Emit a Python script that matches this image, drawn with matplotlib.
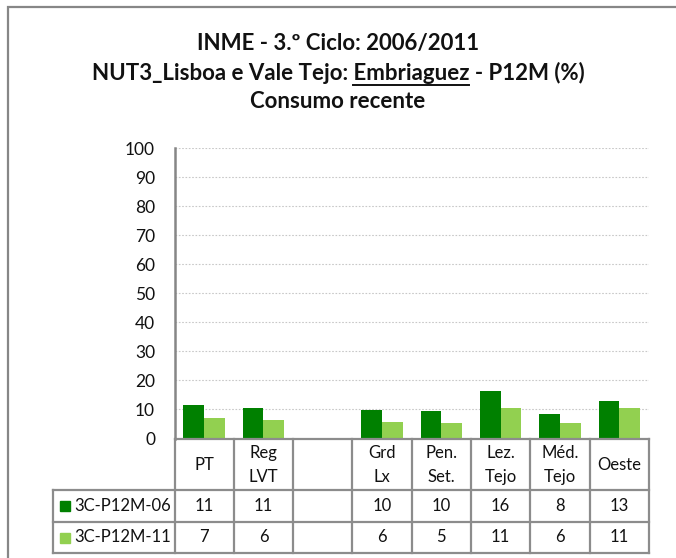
import matplotlib
matplotlib.use("Agg")
import matplotlib.pyplot as plt
from matplotlib.patches import Rectangle
import numpy as np

plt.rcParams['font.family'] = ['Lato', 'DejaVu Sans']

categories = ["PT", "Reg\nLVT", "", "Grd\nLx", "Pen.\nSet.", "Lez.\nTejo", "Méd.\nTejo", "Oeste"]
series_names = ["3C-P12M-06", "3C-P12M-11"]
vals_06 = [11.4, 10.5, np.nan, 9.9, 9.6, 16.2, 8.3, 12.9]
vals_11 = [6.9, 6.3, np.nan, 5.7, 5.3, 10.5, 5.5, 10.6]
table_06 = ["11", "11", "", "10", "10", "16", "8", "13"]
table_11 = ["7", "6", "", "6", "5", "11", "6", "11"]
yticks = list(range(0, 101, 10))
colors = ["#008000", "#92D050"]

W, H = 676, 558
fig = plt.figure(figsize=(W / 100, H / 100), dpi=100)

def fx(px):
    return px / W

def fy(py):
    return 1 - py / H

# outer border
fig.patches.append(Rectangle((fx(7.5), fy(600)), fx(700), fy(7) - fy(600),
                             transform=fig.transFigure, fill=False,
                             edgecolor="#878787", linewidth=1.6))

ax_l, ax_r, ax_t, ax_b = 174.5, 649, 148, 438.5
ax = fig.add_axes([fx(ax_l), fy(ax_b), fx(ax_r - ax_l), fy(ax_t) - fy(ax_b)])
n = len(categories)
x = np.arange(n)
bw = 0.35
ax.bar(x - bw / 2, vals_06, bw, color=colors[0], zorder=3)
ax.bar(x + bw / 2, vals_11, bw, color=colors[1], zorder=3)
ax.set_xlim(-0.5, n - 0.5)
ax.set_ylim(0, 100)
ax.set_yticks(yticks)
ax.set_xticks([])
ax.tick_params(axis='y', length=0, pad=14, labelsize=12.5, labelcolor="#111111")
for s in ["top", "right", "bottom"]:
    ax.spines[s].set_visible(False)
ax.spines["left"].set_color("#868686")
ax.spines["left"].set_linewidth(1.8)
ax.yaxis.grid(True, color="#c8c8c8", linestyle=(0, (1.5, 1.5)), linewidth=0.8, zorder=0)
ax.set_axisbelow(True)

# data table drawn in pixel coordinates
tax = fig.add_axes([0, 0, 1, 1], facecolor="none")
tax.set_xlim(0, W)
tax.set_ylim(H, 0)
tax.axis("off")
lc = "#8c8c8c"
lw = 1.6
leg_l = 52.5
row_y = [438.5, 490, 522, 553]
colw = (ax_r - ax_l) / n
col_x = [ax_l + i * colw for i in range(n + 1)]
# horizontal lines
tax.plot([ax_l, ax_r], [row_y[0], row_y[0]], color=lc, lw=lw)
for yy in row_y[1:]:
    tax.plot([leg_l, ax_r], [yy, yy], color=lc, lw=lw)
# vertical lines
for cx in col_x:
    tax.plot([cx, cx], [row_y[0], row_y[3]], color=lc, lw=lw)
tax.plot([leg_l, leg_l], [row_y[1], row_y[3]], color=lc, lw=lw)

fs = 12
for i, c in enumerate(categories):
    cx = col_x[i] + colw / 2
    tax.text(cx, (row_y[0] + row_y[1]) / 2 + 1, c, ha="center", va="center",
             fontsize=fs, linespacing=1.65, color="#111111")
    tax.text(cx, (row_y[1] + row_y[2]) / 2, table_06[i], ha="center", va="center",
             fontsize=fs, color="#111111")
    tax.text(cx, (row_y[2] + row_y[3]) / 2, table_11[i], ha="center", va="center",
             fontsize=fs, color="#111111")
for r, name in enumerate(series_names):
    yc = (row_y[r + 1] + row_y[r + 2]) / 2
    tax.add_patch(Rectangle((60, yc - 5), 10, 10, color=colors[r]))
    tax.text(74, yc, name, ha="left", va="center", fontsize=fs, color="#111111")

# title
tfs = 16
cx = 338
tax.text(cx, 50, "INME - 3.º Ciclo: 2006/2011", ha="center", va="baseline",
         fontsize=tfs, fontweight="bold", color="#111111")
line2 = "NUT3_Lisboa e Vale Tejo: Embriaguez - P12M (%)"
tax.text(cx, 80, line2, ha="center", va="baseline",
         fontsize=tfs, fontweight="bold", color="#111111")
tax.text(cx, 108, "Consumo recente", ha="center", va="baseline",
         fontsize=tfs, fontweight="bold", color="#111111")

fig.canvas.draw()
r = fig.canvas.get_renderer()
def width_px(s):
    t = tax.text(0, 0, s, fontsize=tfs, fontweight="bold")
    w = t.get_window_extent(renderer=r).width
    t.remove()
    return w
full_w = width_px(line2)
a_w = width_px("NUT3_Lisboa e Vale Tejo: Embriaguez")
e_w = width_px("Embriaguez")
left = cx - full_w / 2
tax.plot([left + a_w - e_w, left + a_w], [85, 85], color="#111111", lw=1.4)

fig.savefig("out.png", dpi=100)
